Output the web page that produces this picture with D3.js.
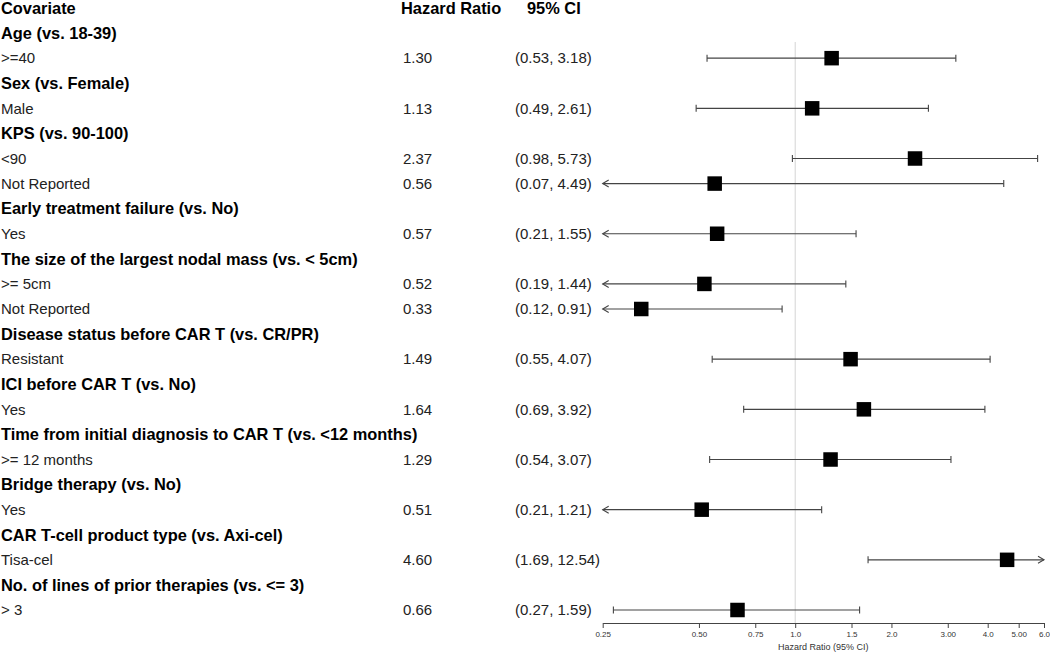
<!DOCTYPE html>
<html><head><meta charset="utf-8">
<script src="https://cdn.jsdelivr.net/npm/d3@7"></script>
<style>
html,body{margin:0;padding:0;background:#fff;}
svg{display:block;font-family:"Liberation Sans",Arial,Helvetica,sans-serif;}
</style></head>
<body>
<svg id="chart" width="1050" height="653"></svg>
<script>
// ---- data ----
const labels = [
  "Age (vs. 18-39)", ">=40",
  "Sex (vs. Female)", "Male",
  "KPS (vs. 90-100)", "<90", "Not Reported",
  "Early treatment failure (vs. No)", "Yes",
  "The size of the largest nodal mass (vs. < 5cm)", ">= 5cm", "Not Reported",
  "Disease status before CAR T (vs. CR/PR)", "Resistant",
  "ICI before CAR T (vs. No)", "Yes",
  "Time from initial diagnosis to CAR T (vs. <12 months)", ">= 12 months",
  "Bridge therapy (vs. No)", "Yes",
  "CAR T-cell product type (vs. Axi-cel)", "Tisa-cel",
  "No. of lines of prior therapies (vs. <= 3)", "> 3"
];
const isGroup = [1,0, 1,0, 1,0,0, 1,0, 1,0,0, 1,0, 1,0, 1,0, 1,0, 1,0, 1,0];
const hr    = [null,1.30, null,1.13, null,2.37,0.56, null,0.57, null,0.52,0.33, null,1.49, null,1.64, null,1.29, null,0.51, null,4.60, null,0.66];
const lower = [null,0.53, null,0.49, null,0.98,0.07, null,0.21, null,0.19,0.12, null,0.55, null,0.69, null,0.54, null,0.21, null,1.69, null,0.27];
const upper = [null,3.18, null,2.61, null,5.73,4.49, null,1.55, null,1.44,0.91, null,4.07, null,3.92, null,3.07, null,1.21, null,12.54, null,1.59];
const headers = ["Covariate", "Hazard Ratio", "95% CI"];
const tickValues = [0.25, 0.5, 0.75, 1.0, 1.5, 2.0, 3.0, 4.0, 5.0, 6.0];
const tickLabels = ["0.25", "0.50", "0.75", "1.0", "1.5", "2.0", "3.00", "4.0", "5.00", "6.0"];
const axisTitle = "Hazard Ratio (95% CI)";

// ---- layout ----
const svg = d3.select("#chart");
const x = d3.scaleLog().domain([0.25, 6.0]).range([602.7, 1044]);
const y = d3.scaleLinear().domain([0, 24]).range([8, 610]);
const axisY = 623;
const colCov = 1, colHR = 403, colCI = 515;
const boldSize = 16.4, regSize = 15;

const fmt2 = d3.format(".2f");

// header
const hdrX = [colCov, colHR - 2, colCI + 12];
svg.selectAll("text.hdr").data(headers).join("text")
  .attr("class", "hdr")
  .attr("x", (d, i) => hdrX[i]).attr("y", y(0))
  .attr("dy", "0.35em")
  .attr("font-size", boldSize).attr("font-weight", "bold").attr("fill", "#000")
  .text(d => d);

// reference line at 1
svg.append("line")
  .attr("x1", x(1)).attr("x2", x(1))
  .attr("y1", 42).attr("y2", axisY)
  .attr("stroke", "#d4d4d4").attr("stroke-width", 1);

const rows = labels.map((l, i) => ({label: l, g: isGroup[i], hr: hr[i], lo: lower[i], hi: upper[i], idx: i + 1}));

const rg = svg.selectAll("g.row").data(rows).join("g").attr("class", "row")
  .attr("transform", d => `translate(0,${y(d.idx)})`);

rg.append("text")
  .attr("x", colCov).attr("dy", "0.35em")
  .attr("font-size", d => d.g ? boldSize : regSize)
  .attr("font-weight", d => d.g ? "bold" : "normal")
  .attr("fill", d => d.g ? "#000" : "#222")
  .text(d => d.label);

const dr = rg.filter(d => !d.g);
dr.append("text").attr("x", colHR).attr("dy", "0.35em")
  .attr("font-size", regSize).attr("fill", "#222")
  .text(d => fmt2(d.hr));
dr.append("text").attr("x", colCI).attr("dy", "0.35em")
  .attr("font-size", regSize).attr("fill", "#222")
  .text(d => `(${fmt2(d.lo)}, ${fmt2(d.hi)})`);

const [dmin, dmax] = x.domain();
const lineCol = "#444";
dr.append("line")
  .attr("x1", d => x(Math.max(d.lo, dmin)))
  .attr("x2", d => x(Math.min(d.hi, dmax)))
  .attr("y1", 0).attr("y2", 0)
  .attr("stroke", lineCol).attr("stroke-width", 1.1);

// ends: cap or arrow when truncated
dr.each(function(d) {
  const g = d3.select(this);
  if (d.lo < dmin) {
    const x0 = x(dmin);
    g.append("path").attr("d", `M${x0 + 6},-3.5L${x0},0L${x0 + 6},3.5`)
      .attr("fill", "none").attr("stroke", lineCol).attr("stroke-width", 1.1);
  } else {
    const x0 = x(d.lo);
    g.append("line").attr("x1", x0).attr("x2", x0).attr("y1", -3.5).attr("y2", 3.5)
      .attr("stroke", lineCol).attr("stroke-width", 1.1);
  }
  if (d.hi > dmax) {
    const x1 = x(dmax);
    g.append("path").attr("d", `M${x1 - 6},-3.5L${x1},0L${x1 - 6},3.5`)
      .attr("fill", "none").attr("stroke", lineCol).attr("stroke-width", 1.1);
  } else {
    const x1 = x(d.hi);
    g.append("line").attr("x1", x1).attr("x2", x1).attr("y1", -3.5).attr("y2", 3.5)
      .attr("stroke", lineCol).attr("stroke-width", 1.1);
  }
});

const sq = 14.5;
dr.append("rect")
  .attr("x", d => x(d.hr) - sq / 2).attr("y", -sq / 2)
  .attr("width", sq).attr("height", sq).attr("fill", "#000");

// axis
const axis = d3.axisBottom(x).tickValues(tickValues)
  .tickFormat((d, i) => tickLabels[i]).tickSize(5).tickSizeOuter(0);
const ag = svg.append("g").attr("transform", `translate(0,${axisY})`).call(axis);
ag.select(".domain").attr("stroke", "#444");
ag.selectAll(".tick line").attr("stroke", "#444");
ag.selectAll(".tick text").attr("font-size", 8).attr("fill", "#333")
  .attr("font-family", "'Liberation Sans',Arial,sans-serif").attr("y", 8);

svg.append("text")
  .attr("x", (x.range()[0] + x.range()[1]) / 2).attr("y", 650)
  .attr("text-anchor", "middle").attr("font-size", 9).attr("fill", "#333")
  .text(axisTitle);
</script>
</body></html>
